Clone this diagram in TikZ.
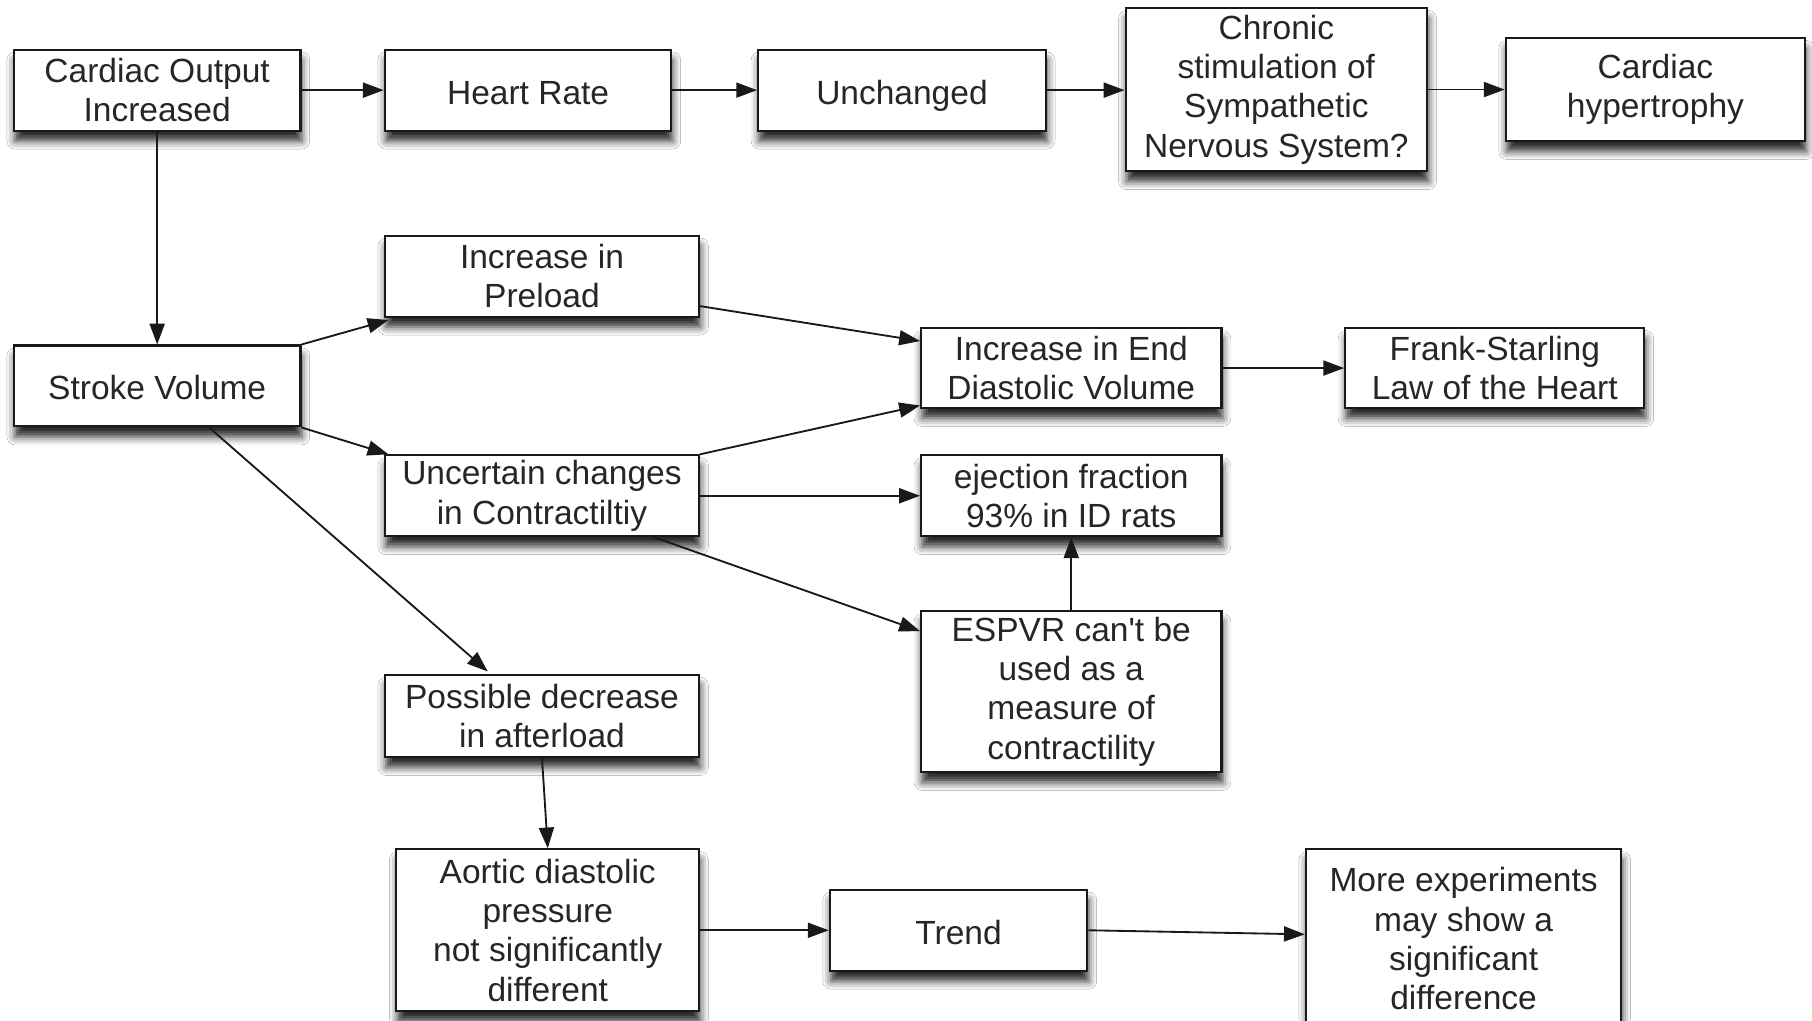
\documentclass[tikz,border=0pt]{standalone}
\usepackage{fontspec}
\setmainfont{Liberation Sans}
\usetikzlibrary{arrows.meta,shadows.blur,calc}
\begin{document}
\begin{tikzpicture}[x=1pt,y=-1pt,
  box/.style={draw=black!90, line width=1.8pt, fill=white, align=center, inner sep=0pt,
    font=\fontsize{29}{34}\selectfont, text=black!85,
    blur shadow={shadow xshift=1pt, shadow yshift=-9pt, shadow blur radius=7pt, shadow opacity=85}},
  one/.style={text height=24pt, text depth=0pt},
  arr/.style={-{Triangle[length=18pt,width=13pt]}, line width=1.6pt, draw=black!90}]
\useasboundingbox (0,0) rectangle (1568,883);
\clip (0,0) rectangle (1568,883);
\fill[white] (0,0) rectangle (1568,883);
% top row
\node[box, minimum width=248pt, minimum height=70pt] (co) at (136,78) {Cardiac Output\\Increased};
\node[box, one, minimum width=248pt, minimum height=70pt] (hr) at (457,78) {Heart Rate};
\node[box, one, minimum width=249pt, minimum height=70pt] (un) at (780.5,78) {Unchanged};
\node[box, minimum width=261pt, minimum height=141pt] (chr) at (1104.5,77.5) {Chronic\\stimulation of\\Sympathetic\\Nervous System?};
\node[box, minimum width=259pt, minimum height=89pt] (hyp) at (1432.5,77.5) {Cardiac\\hypertrophy};
% middle
\node[box, minimum width=272pt, minimum height=70pt] (pre) at (469,239) {Increase in\\Preload};
\node[box, one, minimum width=248pt, minimum height=70pt] (sv) at (136,334) {Stroke Volume};
\node[box, minimum width=260pt, minimum height=69pt] (edv) at (927,318.5) {Increase in End\\Diastolic Volume};
\node[box, minimum width=259pt, minimum height=69pt] (fs) at (1293.5,318.5) {Frank-Starling\\Law of the Heart};
\node[box, minimum width=272pt, minimum height=70pt] (unc) at (469,429) {Uncertain changes\\in Contractiltiy};
\node[box, minimum width=260pt, minimum height=70pt] (ef) at (927,429) {ejection fraction\\93\% in ID rats};
\node[box, minimum width=260pt, minimum height=139pt] (esp) at (927,598.5) {ESPVR can\textquotesingle t be\\used as a\\measure of\\contractility};
\node[box, minimum width=272pt, minimum height=71pt] (pos) at (469,619.5) {Possible decrease\\in afterload};
% bottom
\node[box, minimum width=262pt, minimum height=140pt] (aor) at (474,805) {Aortic diastolic\\pressure\\not significantly\\different};
\node[box, one, minimum width=223pt, minimum height=70pt] (tr) at (829.5,805) {Trend};
\node[box, minimum width=273pt, minimum height=155pt] (more) at (1266.5,812.5) {More experiments\\may show a\\significant\\difference};
% connectors
\draw[arr] (co.east) -- (hr.west);
\draw[arr] (hr.east) -- (un.west);
\draw[arr] (un.east) -- (un.east -| chr.west);
\draw[arr] (chr.east) -- (hyp.west);
\draw[arr] (co.south) -- (sv.north);
\draw[arr] (sv.north east) -- ($(pre.south west)+(4,2)$);
\draw[arr] (sv.south east) -- ($(unc.north west)+(4,0)$);
\draw[arr] ($(sv.south west)!0.68!(sv.south east)$) -- ($(pos.north west)+(90,-2)$);
\draw[arr] ($(pre.south east)+(0,-10)$) -- ($(edv.north west)+(0,12)$);
\draw[arr] (unc.north east) -- ($(edv.south west)+(0,-3)$);
\draw[arr] (edv.east) -- (fs.west);
\draw[arr] (unc.east) -- (ef.west);
\draw[arr] ($(unc.south east)+(-40,0)$) -- ($(esp.north west)+(0,18)$);
\draw[arr] (esp.north) -- (ef.south);
\draw[arr] (pos.south) -- (aor.north);
\draw[arr] (aor.east |- tr.west) -- (tr.west);
\draw[arr] (tr.east) -- ($(more.west)+(0,-4)$);
\end{tikzpicture}
\end{document}
